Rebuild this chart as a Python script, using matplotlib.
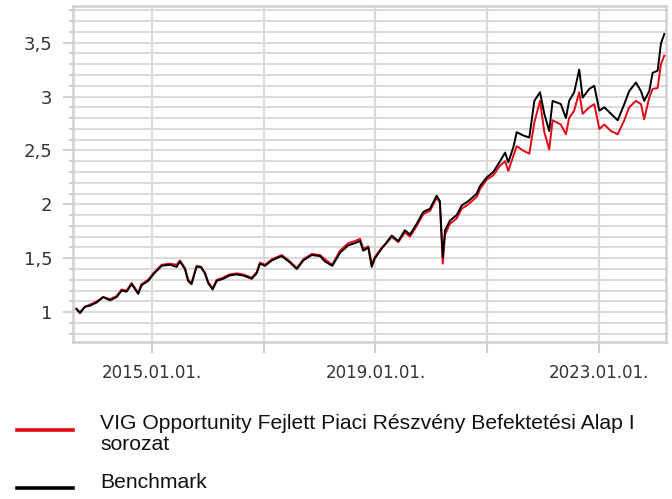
import pandas as pd
import matplotlib
matplotlib.use("Agg")
import matplotlib.pyplot as plt
from matplotlib.lines import Line2D
from matplotlib.ticker import FuncFormatter, MultipleLocator

# data
dates = [
    "2013-08-28", "2013-09-20", "2013-10-22", "2013-11-24", "2014-01-07", "2014-02-19",
    "2014-04-04", "2014-05-17", "2014-06-19", "2014-07-21", "2014-08-23", "2014-10-05",
    "2014-10-27", "2014-12-09", "2015-01-11", "2015-03-07", "2015-04-30", "2015-06-13",
    "2015-07-04", "2015-08-06", "2015-08-27", "2015-09-18", "2015-10-21", "2015-11-18",
    "2015-12-14", "2016-01-05", "2016-02-03", "2016-02-29", "2016-04-12", "2016-05-22",
    "2016-07-09", "2016-08-21", "2016-10-15", "2016-11-16", "2016-12-08", "2017-01-10",
    "2017-02-23", "2017-04-29", "2017-06-22", "2017-08-05", "2017-09-17", "2017-11-11",
    "2018-01-04", "2018-02-05", "2018-03-25", "2018-05-14", "2018-07-07", "2018-08-20",
    "2018-09-22", "2018-10-13", "2018-11-15", "2018-12-07", "2018-12-28", "2019-02-11",
    "2019-03-15", "2019-04-17", "2019-05-30", "2019-07-12", "2019-08-14", "2019-09-27",
    "2019-11-09", "2019-12-23", "2020-02-04", "2020-02-25", "2020-03-15", "2020-03-30",
    "2020-05-01", "2020-06-14", "2020-07-17", "2020-08-29", "2020-10-23", "2020-11-13",
    "2020-12-27", "2021-02-08", "2021-03-24", "2021-04-26", "2021-05-17", "2021-06-19",
    "2021-07-11", "2021-08-20", "2021-10-01", "2021-11-03", "2021-12-10", "2022-01-07",
    "2022-02-08", "2022-03-02", "2022-04-25", "2022-05-28", "2022-06-18", "2022-07-21",
    "2022-08-23", "2022-09-14", "2022-10-27", "2022-11-29", "2023-01-01", "2023-02-03",
    "2023-03-18", "2023-05-01", "2023-06-13", "2023-07-15", "2023-08-28", "2023-09-30",
    "2023-10-21", "2023-11-23", "2023-12-15", "2024-01-17", "2024-02-07", "2024-02-29",
]

benchmark = [
    1.03, 0.99, 1.05, 1.06, 1.09, 1.14, 1.11, 1.14, 1.20, 1.19, 1.26, 1.17,
    1.25, 1.29, 1.35, 1.43, 1.44, 1.42, 1.47, 1.40, 1.29, 1.26, 1.42, 1.42,
    1.36, 1.27, 1.21, 1.29, 1.31, 1.34, 1.35, 1.34, 1.31, 1.36, 1.45, 1.43,
    1.48, 1.52, 1.46, 1.40, 1.48, 1.53, 1.52, 1.47, 1.43, 1.55, 1.62, 1.64,
    1.66, 1.57, 1.60, 1.42, 1.50, 1.59, 1.65, 1.71, 1.66, 1.76, 1.72, 1.82,
    1.93, 1.96, 2.08, 2.03, 1.51, 1.76, 1.85, 1.90, 1.99, 2.03, 2.10, 2.17,
    2.25, 2.30, 2.40, 2.48, 2.39, 2.53, 2.67, 2.64, 2.62, 2.96, 3.04, 2.84,
    2.68, 2.96, 2.93, 2.80, 2.96, 3.04, 3.25, 2.99, 3.07, 3.10, 2.87, 2.90,
    2.84, 2.78, 2.93, 3.05, 3.13, 3.05, 2.96, 3.05, 3.22, 3.24, 3.49, 3.58,
]

fund = [
    1.03, 1.00, 1.05, 1.07, 1.10, 1.14, 1.12, 1.15, 1.21, 1.20, 1.27, 1.18,
    1.26, 1.30, 1.36, 1.44, 1.45, 1.44, 1.48, 1.41, 1.30, 1.27, 1.43, 1.42,
    1.37, 1.28, 1.22, 1.30, 1.32, 1.35, 1.36, 1.35, 1.32, 1.37, 1.46, 1.44,
    1.49, 1.53, 1.47, 1.41, 1.49, 1.54, 1.53, 1.49, 1.44, 1.57, 1.64, 1.66,
    1.68, 1.59, 1.61, 1.45, 1.51, 1.60, 1.64, 1.70, 1.65, 1.74, 1.70, 1.80,
    1.91, 1.94, 2.06, 2.02, 1.45, 1.72, 1.82, 1.87, 1.96, 2.00, 2.07, 2.14,
    2.23, 2.27, 2.36, 2.40, 2.31, 2.45, 2.54, 2.50, 2.47, 2.76, 2.96, 2.67,
    2.51, 2.78, 2.74, 2.65, 2.80, 2.87, 3.04, 2.84, 2.90, 2.93, 2.70, 2.74,
    2.68, 2.65, 2.78, 2.90, 2.96, 2.93, 2.79, 2.99, 3.07, 3.08, 3.30, 3.38,
]

x_ticks = ["2015-01-01", "2017-01-01", "2019-01-01", "2021-01-01", "2023-01-01"]
x_labels = ["2015.01.01.", "", "2019.01.01.", "", "2023.01.01."]
series_names = ["VIG Opportunity Fejlett Piaci Részvény Befektetési Alap I\nsorozat", "Benchmark"]

d = pd.to_datetime(dates)
grid_col = "#dadada"

fig = plt.figure(figsize=(6.72, 4.99), dpi=100)
ax = fig.add_axes([0.109, 0.315, 0.882, 0.673])

ax.plot(d, fund, color="#e30613", lw=1.4, zorder=3)
ax.plot(d, benchmark, color="#000000", lw=1.4, zorder=4)

ax.set_xlim(pd.Timestamp("2013-08-07"), pd.Timestamp("2024-03-11"))
ax.set_ylim(0.725, 3.84)

ax.set_xticks(pd.to_datetime(x_ticks))
ax.set_xticklabels(x_labels)
ax.yaxis.set_major_locator(MultipleLocator(0.5))
ax.yaxis.set_minor_locator(MultipleLocator(0.1))
ax.yaxis.set_major_formatter(FuncFormatter(lambda v, p: f"{v:g}".replace(".", ",")))

ax.grid(axis="x", which="major", color=grid_col, lw=1.5)
ax.grid(axis="y", which="both", color=grid_col, lw=1.4)
ax.set_axisbelow(True)

for s in ax.spines.values():
    s.set_color("#d0d0d0")
    s.set_linewidth(1.8)

ax.tick_params(axis="y", which="major", length=7, width=1.5, color="#d0d0d0",
               labelsize=13, labelcolor="#333333", pad=8)
ax.tick_params(axis="y", which="minor", length=3, width=1.5, color="#d0d0d0")
ax.tick_params(axis="x", which="major", length=8, width=1.5, color="#d0d0d0",
               labelsize=12, labelcolor="#333333", pad=8)

# legend drawn by hand below the chart
# (baseline alignment on two-line text anchors the last line)
fig.add_artist(Line2D([0.025, 0.109], [1 - 430 / 499] * 2, color="#e30613", lw=2.6))
fig.add_artist(Line2D([0.025, 0.109], [1 - 488 / 499] * 2, color="#000000", lw=2.6))
fig.text(0.149, 1 - 450 / 499, series_names[0], family="Liberation Sans", fontsize=15.2,
         color="#111111", va="baseline", linespacing=1.15)
fig.text(0.149, 1 - 488 / 499, series_names[1], family="Liberation Sans", fontsize=15.2,
         color="#111111", va="baseline")

fig.savefig("out.png", dpi=100)
